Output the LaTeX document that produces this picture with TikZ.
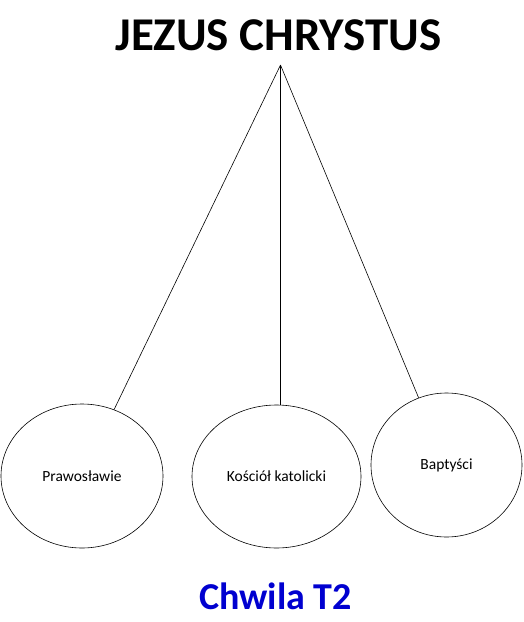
\documentclass[tikz,border=0pt]{standalone}
\usepackage{fontspec}
\setmainfont{Carlito}
\usetikzlibrary{shapes.geometric}
\definecolor{chblue}{HTML}{0000D0}
\tikzset{
  CHURCH/.style={ellipse, draw=black, line width=0.6pt, inner sep=0pt,
    font=\fontsize{15.5}{18}\selectfont, align=center},
  TITLE/.style={font=\fontsize{47}{52}\bfseries\selectfont, inner sep=0pt},
  link/.style={draw=black, line width=0.6pt},
}
\begin{document}
\begin{tikzpicture}[x=1pt, y=-1pt]
  \useasboundingbox (0,0) rectangle (523,622);
  \node[TITLE] (jezus) at (278.5,35.5) {JEZUS CHRYSTUS};
  \coordinate (top) at (280.5,65);
  \node[CHURCH, minimum width=162pt, minimum height=144pt] (orth) at (82,476) {Prawosławie};
  \node[CHURCH, minimum width=169pt, minimum height=143pt] (kat) at (276.5,476.5) {Kościół katolicki};
  \node[CHURCH, minimum width=151pt, minimum height=144pt] (bapt) at (446.5,465) {Baptyści};
  \node[font=\fontsize{38}{42}\bfseries\selectfont, text=chblue, inner sep=0pt] (chwila) at (275.5,596) {Chwila T2};
  \foreach \c in {orth,bapt}{
    \draw[link] (top) -- (\c);}
  \draw[link] (top) -- (top |- kat.north);
\end{tikzpicture}
\end{document}
